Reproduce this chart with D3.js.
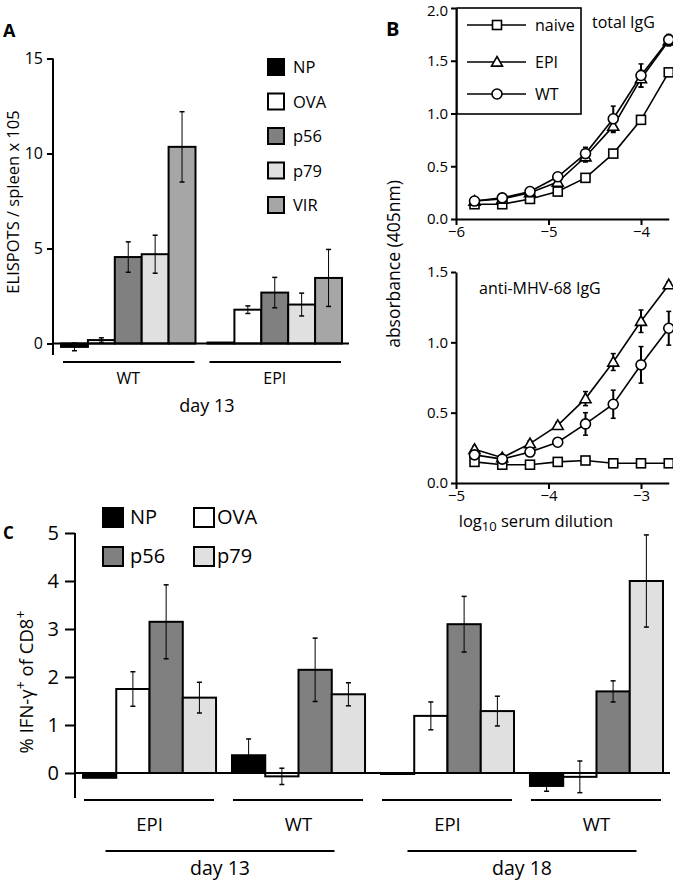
<!DOCTYPE html>
<html><head><meta charset="utf-8">
<script src="https://cdn.jsdelivr.net/npm/d3@7"></script>
<style>
body{margin:0;background:#fff}
text{font-family:'Open Sans',sans-serif;fill:#000}
</style>
</head><body><svg id="c" width="673" height="881"></svg>
<script>
// ---------- Panel A data ----------
const seriesA = ['NP','OVA','p56','p79','VIR'];
const groupsA = ['WT','EPI'];
const valuesA_WT  = [-0.18, 0.18, 4.55, 4.70, 10.35];
const errA_WT     = [0.20, 0.12, 0.80, 1.00, 1.85];
const valuesA_EPI = [0.05, 1.78, 2.68, 2.05, 3.45];
const errA_EPI    = [0.00, 0.20, 0.80, 0.60, 1.50];
const ticksA = [0,5,10,15];
const dayLabelA = 'day 13';

// ---------- Panel B data ----------
const xTop = [-5.8,-5.5,-5.2,-4.9,-4.6,-4.3,-4.0,-3.7];
const topNaive = [0.14,0.14,0.19,0.26,0.39,0.62,0.94,1.39];
const topEPI   = [0.17,0.19,0.25,0.35,0.59,0.88,1.33,1.69];
const topWT    = [0.17,0.20,0.26,0.40,0.62,0.95,1.36,1.70];
const topErrEPI = [0,0,0.02,0.03,0.05,0.06,0.08,0.05];
const topErrWT  = [0,0,0.02,0.03,0.06,0.12,0.11,0.05];
const ticksTopX = [-6,-5,-4];
const ticksTopY = [0,0.5,1,1.5,2];

const xBot = [-4.8,-4.5,-4.2,-3.9,-3.6,-3.3,-3.0,-2.7];
const botNaive = [0.15,0.13,0.13,0.15,0.16,0.14,0.14,0.14];
const botEPI   = [0.24,0.18,0.28,0.41,0.60,0.86,1.15,1.41];
const botWT    = [0.20,0.17,0.22,0.29,0.42,0.56,0.84,1.10];
const botErrEPI = [0.02,0.01,0.02,0.02,0.05,0.06,0.08,0.02];
const botErrWT  = [0.02,0.01,0.03,0.02,0.08,0.10,0.13,0.12];
const ticksBotX = [-5,-4,-3];
const ticksBotY = [0,0.5,1,1.5];
const seriesB = ['naive','EPI','WT'];

// ---------- Panel C data ----------
const seriesC = ['NP','OVA','p56','p79'];
const groupLabelsC = ['EPI','WT','EPI','WT'];
const dayLabelsC = ['day 13','day 18'];
const valuesC_NP  = [-0.10, 0.37, -0.02, -0.27];
const errC_NP     = [0.00, 0.34, 0.00, 0.11];
const valuesC_OVA = [1.75, -0.07, 1.19, -0.08];
const errC_OVA    = [0.36, 0.17, 0.29, 0.33];
const valuesC_p56 = [3.15, 2.15, 3.10, 1.70];
const errC_p56    = [0.77, 0.66, 0.58, 0.22];
const valuesC_p79 = [1.57, 1.64, 1.29, 4.00];
const errC_p79    = [0.32, 0.24, 0.31, 0.96];
const ticksC = [0,1,2,3,4,5];

const fills = {NP:'#000000', OVA:'#ffffff', p56:'#808080', p79:'#e0e0e0', VIR:'#a6a6a6'};

const svg = d3.select('#c');

function errBar(g, x, y1, y2, cap, sw){
  g.append('line').attr('x1',x).attr('x2',x).attr('y1',y1).attr('y2',y2)
    .attr('stroke','#000').attr('stroke-width',sw||1);
  [y1,y2].forEach(y=>g.append('line').attr('x1',x-cap/2).attr('x2',x+cap/2)
    .attr('y1',y).attr('y2',y).attr('stroke','#000').attr('stroke-width',1.5));
}

// ================= PANEL A =================
(function(){
  const g = svg.append('g');
  const y = d3.scaleLinear().domain([0,15]).range([343.5,58.5]);
  const x0 = d3.scaleBand().domain(groupsA).range([61,342]).paddingInner(0.082);
  const x1 = d3.scaleBand().domain(seriesA).range([0,x0.bandwidth()]);
  const vals = {WT:valuesA_WT, EPI:valuesA_EPI};
  const errs = {WT:errA_WT, EPI:errA_EPI};
  groupsA.forEach(gr=>{
    seriesA.forEach((s,i)=>{
      const v = vals[gr][i];
      g.append('rect').attr('x',x0(gr)+x1(s)).attr('width',x1.bandwidth())
        .attr('y',y(Math.max(0,v))).attr('height',Math.max(1,Math.abs(y(v)-y(0))))
        .attr('fill',fills[s]).attr('stroke','#000').attr('stroke-width',2);
    });
  });
  groupsA.forEach(gr=>{
    seriesA.forEach((s,i)=>{
      const v = vals[gr][i], e = errs[gr][i];
      if(e>0) errBar(g, x0(gr)+x1(s)+x1.bandwidth()/2, y(v+e), y(v-e), 5, 1);
    });
  });
  g.append('line').attr('x1',53).attr('x2',349).attr('y1',y(0)).attr('y2',y(0))
    .attr('stroke','#000').attr('stroke-width',2);
  const ax = g.append('g').attr('transform','translate(53,0)')
    .call(d3.axisLeft(y).tickValues(ticksA).tickFormat(d3.format('d')).tickSize(6).tickSizeOuter(0).tickPadding(4));
  ax.select('.domain').remove();
  ax.selectAll('.tick line').attr('stroke-width',2);
  ax.selectAll('.tick text').attr('font-size',16).attr('font-family',"'Open Sans',sans-serif");
  g.append('line').attr('x1',53).attr('x2',53).attr('y1',y(15)).attr('y2',355)
    .attr('stroke','#000').attr('stroke-width',2);
  groupsA.forEach(gr=>{
    g.append('line').attr('x1',x0(gr)+2).attr('x2',x0(gr)+x0.bandwidth()-1)
      .attr('y1',362).attr('y2',362).attr('stroke','#000').attr('stroke-width',2);
    g.append('text').attr('x',x0(gr)+x0.bandwidth()/2).attr('y',384)
      .attr('text-anchor','middle').attr('font-size',16).text(gr);
  });
  g.append('text').attr('x',207).attr('y',412).attr('text-anchor','middle')
    .attr('font-size',18).text(dayLabelA);
  g.append('text').attr('transform','translate(19,202) rotate(-90)')
    .attr('text-anchor','middle').attr('font-size',16.5).text('ELISPOTS / spleen x 105');
  seriesA.forEach((s,i)=>{
    const cy = 67 + i*34.5;
    g.append('rect').attr('x',268).attr('y',cy-8).attr('width',16).attr('height',16)
      .attr('fill',fills[s]).attr('stroke','#000').attr('stroke-width',2);
    g.append('text').attr('x',293).attr('y',cy+6).attr('font-size',16.5).text(s);
  });
  g.append('text').attr('x',3).attr('y',37).attr('font-size',18).attr('font-weight','bold').text('A');
})();

// ================= PANEL B =================
function marker(g, type, cx, cy){
  if(type==='naive'){
    g.append('rect').attr('x',cx-4.5).attr('y',cy-4.5).attr('width',9).attr('height',9)
      .attr('fill','#fff').attr('stroke','#000').attr('stroke-width',1.6);
  } else if(type==='EPI'){
    const s=5.5;
    g.append('path').attr('d',`M${cx},${cy-s}L${cx+s},${cy+s*0.75}L${cx-s},${cy+s*0.75}Z`)
      .attr('fill','#fff').attr('stroke','#000').attr('stroke-width',1.6);
  } else {
    g.append('circle').attr('cx',cx).attr('cy',cy).attr('r',5)
      .attr('fill','#fff').attr('stroke','#000').attr('stroke-width',1.6);
  }
}
function drawB(xs, data, errsMap, xDom, yDom, yRange, xTicks, yTicks){
  const g = svg.append('g');
  const x = d3.scaleLinear().domain(xDom).range([456,668.75]);
  const y = d3.scaleLinear().domain(yDom).range(yRange);
  const ax = g.append('g').attr('transform',`translate(456,0)`)
    .call(d3.axisLeft(y).tickValues(yTicks).tickFormat(d3.format('.1f')).tickSize(5).tickSizeOuter(0).tickPadding(3));
  const bx = g.append('g').attr('transform',`translate(0,${yRange[0]})`)
    .call(d3.axisBottom(x).tickValues(xTicks).tickFormat(d3.format('d')).tickSize(6).tickSizeOuter(0).tickPadding(1));
  [ax,bx].forEach(a=>{
    a.select('.domain').attr('stroke-width',2);
    a.selectAll('.tick line').attr('stroke-width',2);
    a.selectAll('.tick text').attr('font-size',15).attr('font-family',"'Open Sans',sans-serif");
  });
  // keep the topmost y tick label inside the frame
  ax.selectAll('.tick text').filter(d=>d===yDom[1] && yRange[1]<12).attr('dy','0.5em');
  const line = d3.line().x((d,i)=>x(xs[i])).y(d=>y(d));
  seriesB.forEach(s=>{
    g.append('path').attr('d',line(data[s])).attr('fill','none').attr('stroke','#000').attr('stroke-width',1.6);
  });
  seriesB.forEach(s=>{
    const e = errsMap[s];
    if(!e) return;
    data[s].forEach((v,i)=>{ if(e[i]>0.015) errBar(g, x(xs[i]), y(v+e[i]), y(v-e[i]), 5, 2); });
  });
  seriesB.forEach(s=>{
    data[s].forEach((v,i)=>marker(g, s, x(xs[i]), y(v)));
  });
  return g;
}
const gTop = drawB(xTop, {naive:topNaive, EPI:topEPI, WT:topWT}, {EPI:topErrEPI, WT:topErrWT},
  [-6,-3.7],[0,2],[219,8], ticksTopX, ticksTopY);
gTop.append('text').attr('x',592).attr('y',28).attr('font-size',16).text('total IgG');
gTop.append('rect').attr('x',457).attr('y',8).attr('width',124).attr('height',106)
  .attr('fill','#fff').attr('stroke','#000').attr('stroke-width',1.6);
seriesB.forEach((s,i)=>{
  const cy = [25,62,94][i];
  gTop.append('line').attr('x1',467).attr('x2',526).attr('y1',cy).attr('y2',cy)
    .attr('stroke','#000').attr('stroke-width',1.6);
  marker(gTop, s, 497, cy);
  gTop.append('text').attr('x',535).attr('y',cy+6).attr('font-size',16).text(s);
});
const gBot = drawB(xBot, {naive:botNaive, EPI:botEPI, WT:botWT}, {EPI:botErrEPI, WT:botErrWT},
  [-5,-2.7],[0,1.5],[483,272], ticksBotX, ticksBotY);
gBot.append('text').attr('x',479).attr('y',294).attr('font-size',16).text('anti-MHV-68 IgG');
const xl = gBot.append('text').attr('x',536).attr('y',527).attr('text-anchor','middle').attr('font-size',16.5);
xl.append('tspan').text('log');
xl.append('tspan').attr('dy',4).attr('font-size',13).text('10');
xl.append('tspan').attr('dy',-4).text(' serum dilution');
svg.append('text').attr('transform','translate(400,264) rotate(-90)')
  .attr('text-anchor','middle').attr('font-size',17.5).text('absorbance (405nm)');
svg.append('text').attr('x',386).attr('y',36).attr('font-size',20).attr('font-weight','bold').text('B');

// ================= PANEL C =================
(function(){
  const g = svg.append('g');
  const y = d3.scaleLinear().domain([0,5]).range([773,533]);
  const groupIdx = d3.range(groupLabelsC.length);
  const x0 = d3.scaleBand().domain(groupIdx).range([83,663]).paddingInner(0.107);
  const x1 = d3.scaleBand().domain(seriesC).range([0,x0.bandwidth()]);
  const vals = {NP:valuesC_NP, OVA:valuesC_OVA, p56:valuesC_p56, p79:valuesC_p79};
  const errs = {NP:errC_NP, OVA:errC_OVA, p56:errC_p56, p79:errC_p79};
  groupIdx.forEach(gi=>{
    seriesC.forEach(s=>{
      const v = vals[s][gi];
      g.append('rect').attr('x',x0(gi)+x1(s)).attr('width',x1.bandwidth())
        .attr('y',y(Math.max(0,v))).attr('height',Math.max(1,Math.abs(y(v)-y(0))))
        .attr('fill',fills[s]).attr('stroke','#000').attr('stroke-width',2);
    });
  });
  groupIdx.forEach(gi=>{
    seriesC.forEach(s=>{
      const v = vals[s][gi], e = errs[s][gi];
      if(e>0) errBar(g, x0(gi)+x1(s)+x1.bandwidth()/2, y(v+e), y(v-e), 5, 1);
    });
  });
  g.append('line').attr('x1',75).attr('x2',670).attr('y1',y(0)).attr('y2',y(0))
    .attr('stroke','#000').attr('stroke-width',2);
  const ax = g.append('g').attr('transform','translate(75,0)')
    .call(d3.axisLeft(y).tickValues(ticksC).tickFormat(d3.format('d')).tickSize(10).tickSizeOuter(0).tickPadding(6));
  ax.select('.domain').remove();
  ax.selectAll('.tick line').attr('stroke-width',2);
  ax.selectAll('.tick text').attr('font-size',20).attr('font-family',"'Open Sans',sans-serif");
  g.append('line').attr('x1',75).attr('x2',75).attr('y1',y(5)).attr('y2',798)
    .attr('stroke','#000').attr('stroke-width',2);
  groupIdx.forEach(gi=>{
    g.append('line').attr('x1',x0(gi)+1).attr('x2',x0(gi)+x0.bandwidth()-2)
      .attr('y1',800).attr('y2',800).attr('stroke','#000').attr('stroke-width',2);
    g.append('text').attr('x',x0(gi)+x0.bandwidth()/2).attr('y',831)
      .attr('text-anchor','middle').attr('font-size',18.5).text(groupLabelsC[gi]);
  });
  dayLabelsC.forEach((d,k)=>{
    const cx = (x0(2*k) + x0(2*k+1)+x0.bandwidth())/2 - (k===0?4:0);
    g.append('line').attr('x1',cx-114.5).attr('x2',cx+114.5).attr('y1',851).attr('y2',851)
      .attr('stroke','#000').attr('stroke-width',2);
    g.append('text').attr('x',cx).attr('y',875).attr('text-anchor','middle')
      .attr('font-size',19.5).text(d);
  });
  const yl = g.append('text').attr('transform','translate(33,682) rotate(-90)')
    .attr('text-anchor','middle').attr('font-size',18.5);
  yl.append('tspan').text('% IFN-γ');
  yl.append('tspan').attr('dy',-7).attr('font-size',14).text('+');
  yl.append('tspan').attr('dy',7).text(' of CD8');
  yl.append('tspan').attr('dy',-7).attr('font-size',14).text('+');
  seriesC.forEach((s,i)=>{
    const lx = i%2===0 ? 103 : 194;
    const cy = i<2 ? 517 : 556;
    g.append('rect').attr('x',lx).attr('y',cy-9).attr('width',20).attr('height',19)
      .attr('fill',fills[s]).attr('stroke','#000').attr('stroke-width',2);
    g.append('text').attr('x',lx+(i%2===0?27:23)).attr('y',cy+7).attr('font-size',20).text(s);
  });
  g.append('text').attr('x',3).attr('y',539).attr('font-size',17).attr('font-weight','bold').text('C');
})();
</script></body></html>
